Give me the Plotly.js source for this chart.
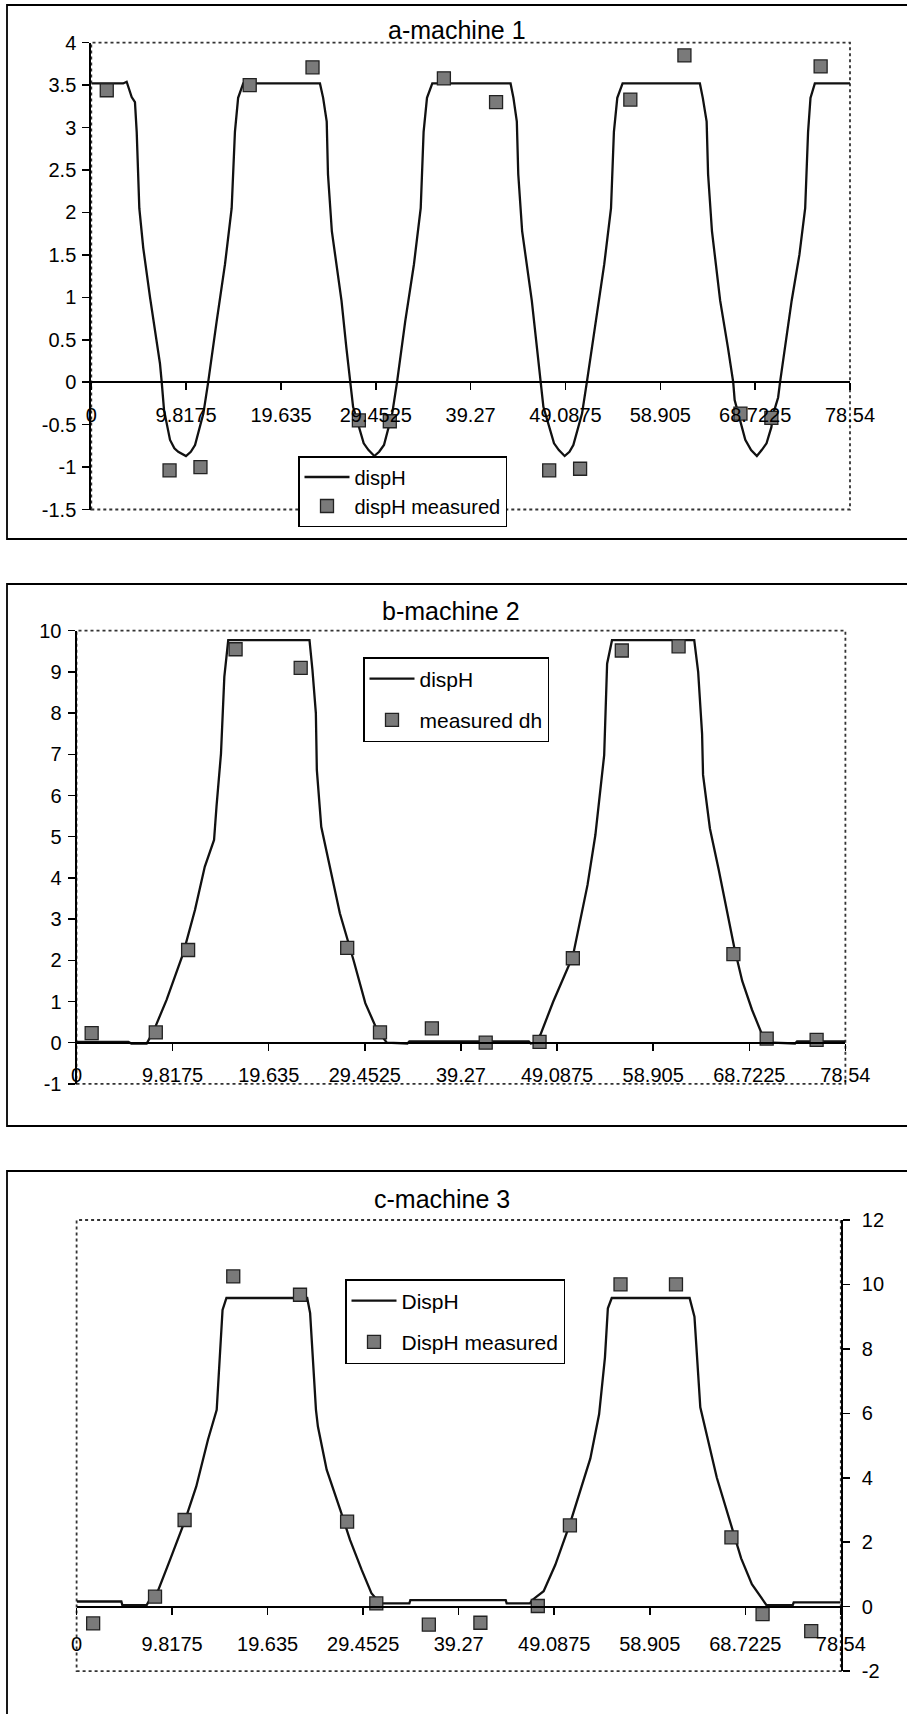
<!DOCTYPE html>
<html>
<head>
<meta charset="utf-8">
<script src="https://cdn.plot.ly/plotly-3.0.1.min.js"></script>
<style>
  html, body { margin: 0; padding: 0; background: #fff; }
  #chart { width: 907px; height: 1714px; }
</style>
</head>
<body>
<div id="chart"></div>
<script>
// ---------- shared axis labels ----------
const xTickVals = [0, 9.8175, 19.635, 29.4525, 39.27, 49.0875, 58.905, 68.7225, 78.54];
const xTickText = ['0', '9.8175', '19.635', '29.4525', '39.27', '49.0875', '58.905', '68.7225', '78.54'];

// ---------- panel a: machine 1 ----------
const titleA = 'a-machine 1';
const yTickValsA = [-1.5, -1, -0.5, 0, 0.5, 1, 1.5, 2, 2.5, 3, 3.5, 4];
const yTickTextA = ['-1.5', '-1', '-0.5', '0', '0.5', '1', '1.5', '2', '2.5', '3', '3.5', '4'];
const dispHA_x = [0, 3.3, 3.66, 4.18, 4.52, 4.7, 4.97, 5.38, 6.08, 6.7, 7.11, 7.29, 7.53, 8.15, 8.6, 9.0, 9.8, 10.3, 10.74, 11.6, 12.1, 12.98, 13.84, 14.53, 14.87, 15.2, 15.73,
  23.67, 24.0, 24.37, 24.5, 24.9, 25.9, 26.4, 26.8, 27.1, 28.2, 28.7, 29.3, 29.8, 30.3, 31.15, 31.65, 32.5, 33.4, 34.1, 34.4, 34.75, 35.3,
  43.4, 43.7, 44.05, 44.2, 44.6, 45.6, 46.1, 46.5, 46.8, 47.9, 48.4, 49.0, 49.5, 49.9, 50.8, 51.3, 52.2, 53.1, 53.8, 54.1, 54.45, 55.0,
  63.0, 63.3, 63.7, 63.85, 64.25, 65.1, 65.9, 66.45, 66.6, 67.7, 68.3, 68.9, 69.4, 69.9, 70.4, 70.6, 71.1, 71.3, 72.5, 73.3, 73.9, 74.2, 74.45, 74.9, 78.54];
const dispHA_y = [3.52, 3.52, 3.54, 3.36, 3.3, 2.95, 2.05, 1.58, 1.0, 0.53, 0.22, 0, -0.33, -0.68, -0.78, -0.82, -0.87, -0.82, -0.74, -0.37, 0, 0.72, 1.39, 2.05, 2.95, 3.35, 3.52,
  3.52, 3.35, 3.07, 2.45, 1.78, 0.96, 0.41, 0.02, -0.29, -0.72, -0.8, -0.87, -0.82, -0.74, -0.37, 0, 0.72, 1.39, 2.05, 2.95, 3.35, 3.52,
  3.52, 3.35, 3.07, 2.45, 1.78, 0.96, 0.41, 0.02, -0.29, -0.72, -0.8, -0.87, -0.82, -0.74, -0.37, 0, 0.72, 1.39, 2.05, 2.95, 3.35, 3.52,
  3.52, 3.35, 3.07, 2.45, 1.78, 0.96, 0.41, 0, -0.21, -0.68, -0.8, -0.87, -0.8, -0.72, -0.53, -0.37, -0.18, 0, 0.96, 1.5, 2.05, 2.95, 3.35, 3.52, 3.52];
const measA_x = [1.6, 8.1, 11.3, 16.4, 22.9, 27.7, 30.9, 36.5, 41.9, 47.4, 50.6, 55.8, 61.4, 67.2, 70.4, 75.5];
const measA_y = [3.44, -1.04, -1.0, 3.5, 3.71, -0.45, -0.46, 3.58, 3.3, -1.04, -1.02, 3.33, 3.85, -0.37, -0.42, 3.72];
const legendA = ['dispH', 'dispH measured'];

// ---------- panel b: machine 2 ----------
const titleB = 'b-machine 2';
const yTickValsB = [-1, 0, 1, 2, 3, 4, 5, 6, 7, 8, 9, 10];
const yTickTextB = ['-1', '0', '1', '2', '3', '4', '5', '6', '7', '8', '9', '10'];
const dispHB_x = [0, 5.3, 5.6, 7.17, 7.85, 9.2, 10.9, 12.1, 13.1, 14.05, 14.3, 14.76, 15.1, 15.5,
  23.8, 24.1, 24.45, 24.55, 25.0, 25.9, 26.9, 28.3, 29.5, 30.7, 31.7, 33.8, 34.0, 46.2, 46.4,
  46.8, 47.4, 48.7, 50.7, 52.2, 53.0, 53.9, 54.2, 54.7,
  63.1, 63.5, 63.9, 64.0, 64.7, 65.6, 66.6, 67.2, 68.0, 69.0, 70.2, 71.1, 73.4, 73.6, 78.54];
const dispHB_y = [0.02, 0.02, -0.02, -0.02, 0.27, 1.04, 2.17, 3.22, 4.27, 4.92, 5.73, 7.02, 8.88, 9.77,
  9.77, 9.05, 8.0, 6.62, 5.24, 4.27, 3.14, 2.0, 0.96, 0.31, 0, -0.02, 0.03, 0.03, -0.02,
  0, 0.2, 1.0, 2.1, 3.83, 5.04, 6.98, 9.2, 9.77,
  9.77, 9.0, 7.5, 6.5, 5.2, 4.2, 3.0, 2.3, 1.5, 0.8, 0.1, 0, -0.02, 0.03, 0.03];
const measB_x = [1.55, 8.1, 11.4, 16.25, 22.9, 27.65, 31.0, 36.3, 41.8, 47.3, 50.7, 55.7, 61.5, 67.1, 70.5, 75.6];
const measB_y = [0.23, 0.25, 2.25, 9.55, 9.1, 2.3, 0.25, 0.35, 0.0, 0.02, 2.05, 9.52, 9.62, 2.15, 0.1, 0.07];
const legendB = ['dispH', 'measured dh'];

// ---------- panel c: machine 3 ----------
const titleC = 'c-machine 3';
const yTickValsC = [-2, 0, 2, 4, 6, 8, 10, 12];
const yTickTextC = ['-2', '0', '2', '4', '6', '8', '10', '12'];
const dispHC_x = [0, 4.6, 4.7, 7.2, 7.5, 8.4, 9.6, 11.1, 12.3, 13.5, 14.4, 14.7, 15.0, 15.4,
  23.7, 24.0, 24.3, 24.6, 24.8, 25.7, 27.1, 28.1, 29.3, 30.3, 31.2, 34.2, 34.3, 44.1, 44.2, 46.6,
  46.8, 48.0, 49.2, 50.7, 52.8, 53.7, 54.3, 54.6, 55.0,
  63.0, 63.5, 64.1, 65.8, 67.3, 68.3, 69.4, 70.9, 73.6, 73.7, 78.54];
const dispHC_y = [0.16, 0.16, 0.05, 0.05, 0.21, 0.52, 1.45, 2.64, 3.73, 5.18, 6.11, 7.66, 9.21, 9.58,
  9.58, 9.11, 7.56, 6.11, 5.59, 4.25, 3.0, 2.07, 1.14, 0.42, 0.1, 0.1, 0.2, 0.2, 0.1, 0.1,
  0.2, 0.48, 1.3, 2.57, 4.6, 5.97, 7.73, 9.26, 9.58,
  9.58, 9.0, 6.19, 4.0, 2.46, 1.5, 0.7, 0.05, 0.05, 0.13, 0.13];
const measC_x = [1.7, 8.06, 11.1, 16.1, 22.96, 27.8, 30.8, 36.2, 41.5, 47.4, 50.7, 55.9, 61.6, 67.3, 70.5, 75.5];
const measC_y = [-0.52, 0.31, 2.69, 10.25, 9.68, 2.64, 0.1, -0.56, -0.5, 0.02, 2.52, 10.0, 10.0, 2.15, -0.23, -0.76];
const legendC = ['DispH', 'DispH measured'];

// ---------- layout geometry (pixels on the 907x1714 page) ----------
const W = 907, H = 1714;
const FONT = 'Liberation Sans, Arial, sans-serif';
const px = v => v / W;
const py = v => 1 - v / H;

const panels = [
  {plot: [91.3, 850, 42.7, 509.5], yr: [-1.5, 4], yv: yTickValsA, yt: yTickTextA, side: 'left',
   frame: [7, 915, 5, 539], title: titleA, tx: 457, ty: 30, leg: [298, 456], gap: 0, legfont: 20, standoff: 8,
   lx: dispHA_x, ly: dispHA_y, mx: measA_x, my: measA_y, names: legendA},
  {plot: [76.5, 845.4, 630.7, 1083.9], yr: [-1, 10], yv: yTickValsB, yt: yTickTextB, side: 'left',
   frame: [7, 915, 584, 1126], title: titleB, tx: 451, ty: 611, leg: [363, 657], gap: 11, legfont: 21, standoff: 7,
   lx: dispHB_x, ly: dispHB_y, mx: measB_x, my: measB_y, names: legendB},
  {plot: [76.6, 840.8, 1220, 1671.1], yr: [-2, 12], yv: yTickValsC, yt: yTickTextC, side: 'right',
   frame: [7, 915, 1171, 1730], title: titleC, tx: 442, ty: 1199, leg: [345, 1279], gap: 11, legfont: 21, standoff: 12,
   lx: dispHC_x, ly: dispHC_y, mx: measC_x, my: measC_y, names: legendC}
];

const data = [];
const layout = {
  width: W, height: H,
  margin: {l: 0, r: 0, t: 0, b: 0},
  paper_bgcolor: '#ffffff',
  plot_bgcolor: 'rgba(0,0,0,0)',
  font: {family: FONT, color: '#000', size: 20},
  showlegend: true,
  shapes: [],
  annotations: []
};

panels.forEach((p, i) => {
  const n = i + 1;
  const xa = 'x' + (n === 1 ? '' : n), ya = 'y' + (n === 1 ? '' : n);
  const xk = 'xaxis' + (n === 1 ? '' : n), yk = 'yaxis' + (n === 1 ? '' : n);
  const lg = 'legend' + (n === 1 ? '' : n);
  const yd = [py(p.plot[3]), py(p.plot[2])];
  const xd = [px(p.plot[0]), px(p.plot[1])];
  const zeroPos = yd[0] + (0 - p.yr[0]) / (p.yr[1] - p.yr[0]) * (yd[1] - yd[0]);

  data.push({
    x: p.lx, y: p.ly, xaxis: xa, yaxis: ya, type: 'scatter', mode: 'lines',
    name: p.names[0], legend: lg, legendgroup: 'l' + n,
    line: {color: '#111', width: 2.3}, hoverinfo: 'skip'
  });
  data.push({
    x: p.mx, y: p.my, xaxis: xa, yaxis: ya, type: 'scatter', mode: 'markers',
    name: p.names[1], legend: lg, legendgroup: 'm' + n,
    marker: {symbol: 'square', size: 13, color: '#7a7a7a', line: {color: '#222', width: 1.3}},
    hoverinfo: 'skip'
  });

  layout[xk] = {
    domain: xd, range: [0, 78.54], anchor: 'free', position: zeroPos,
    tickmode: 'array', tickvals: xTickVals, ticktext: xTickText,
    ticks: 'outside', ticklen: 7, tickwidth: 1.5, tickcolor: '#000',
    showline: true, linecolor: '#000', linewidth: 2,
    showgrid: false, zeroline: false, ticklabelstandoff: p.standoff,
    tickfont: {family: FONT, size: 20, color: '#000'}, fixedrange: true
  };
  layout[yk] = {
    domain: yd, range: p.yr, anchor: xa, side: p.side,
    tickmode: 'array', tickvals: p.yv, ticktext: p.yt,
    ticks: 'outside', ticklen: 7, tickwidth: 1.5, tickcolor: '#000',
    showline: true, linecolor: '#000', linewidth: 2,
    showgrid: false, zeroline: false,
    ticklabelstandoff: p.side === 'right' ? 8 : 2,
    tickfont: {family: FONT, size: 20, color: '#000'}, fixedrange: true
  };
  layout[lg] = {
    x: px(p.leg[0]), y: py(p.leg[1]), xanchor: 'left', yanchor: 'top',
    xref: 'paper', yref: 'paper',
    bgcolor: '#ffffff', bordercolor: '#000', borderwidth: 1.5,
    font: {family: FONT, size: p.legfont, color: '#000'},
    traceorder: 'grouped', tracegroupgap: p.gap, itemwidth: 45
  };
  // dotted plot-area border
  layout.shapes.push({
    type: 'rect', xref: xa + ' domain', yref: ya + ' domain', x0: 0, x1: 1, y0: 0, y1: 1,
    line: {color: '#333', width: 1.8, dash: 'dot'}, layer: 'below'
  });
  // outer chart frame
  layout.shapes.push({
    type: 'rect', xref: 'paper', yref: 'paper',
    x0: px(p.frame[0]), x1: px(p.frame[1]), y0: py(p.frame[3]), y1: py(p.frame[2]),
    line: {color: '#000', width: 1.8}, layer: 'below'
  });
  layout.annotations.push({
    text: p.title, xref: 'paper', yref: 'paper', x: px(p.tx), y: py(p.ty),
    xanchor: 'center', yanchor: 'middle', showarrow: false,
    font: {family: FONT, size: 25, color: '#000'}
  });
});

Plotly.newPlot('chart', data, layout, {staticPlot: true, displayModeBar: false});
</script>
</body>
</html>
